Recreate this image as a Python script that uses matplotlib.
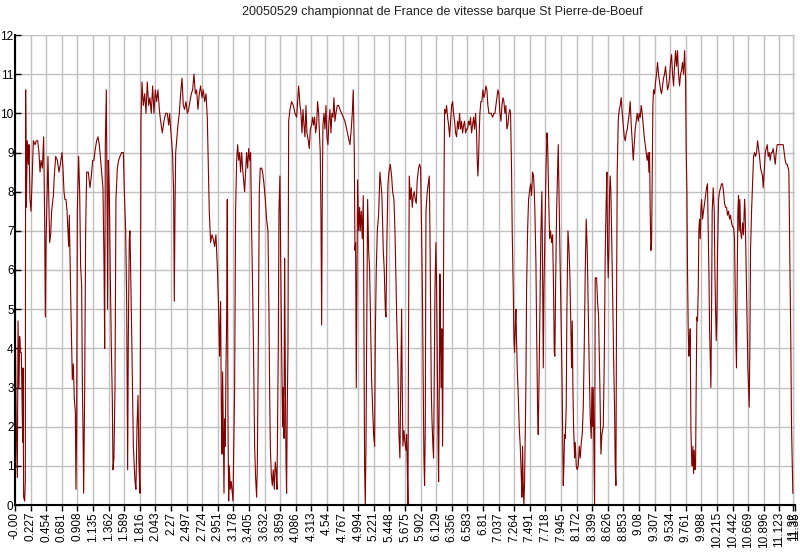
"""
Speed trace of a rowing-boat race (km vs km/h), redrawn with matplotlib.
Saves out.png at 800x553.
"""

import matplotlib
matplotlib.use("Agg")
import matplotlib.pyplot as plt

# ── Data: (distance, speed), one list per stretch ─────────────────────────────
stretch_1 = [
    (0.000, 5.7), (0.005, 4.4), (0.019, 2.0), (0.034, 0.7), (0.044, 4.7),
    (0.058, 3.0), (0.068, 4.3), (0.078, 3.9), (0.092, 3.9), (0.102, 2.7),
    (0.112, 1.6), (0.116, 3.5), (0.126, 0.2), (0.141, 0.1), (0.150, 0.6),
    (0.155, 10.6), (0.165, 7.6), (0.179, 9.3), (0.194, 8.7), (0.204, 9.2),
    (0.218, 7.8), (0.233, 7.5), (0.247, 8.2), (0.267, 9.3), (0.291, 9.2),
    (0.310, 9.3), (0.330, 9.3), (0.349, 9.0), (0.364, 8.5), (0.378, 8.8),
    (0.398, 8.6), (0.417, 9.4), (0.432, 7.2), (0.441, 4.8), (0.451, 6.7),
    (0.466, 7.9), (0.480, 8.9), (0.495, 7.6), (0.504, 6.7), (0.519, 6.9),
    (0.533, 7.5), (0.558, 7.9), (0.572, 8.4), (0.592, 8.9), (0.616, 8.8),
    (0.640, 8.5), (0.660, 8.7), (0.684, 9.0), (0.698, 8.6), (0.713, 8.0),
    (0.727, 7.8), (0.742, 7.8), (0.757, 7.5), (0.771, 7.0), (0.781, 6.6),
    (0.790, 7.4), (0.800, 6.4), (0.815, 4.9), (0.834, 3.2), (0.849, 3.6),
    (0.863, 2.7), (0.878, 2.4), (0.887, 0.4), (0.897, 2.0), (0.907, 7.5),
    (0.926, 8.9), (0.941, 8.0), (0.955, 6.1), (0.970, 5.6), (0.980, 3.1),
    (0.989, 2.0), (0.999, 0.3), (1.014, 3.0), (1.028, 7.0), (1.043, 8.5),
    (1.067, 8.5), (1.091, 8.1), (1.111, 8.4), (1.130, 8.8), (1.149, 8.8),
    (1.169, 9.1), (1.188, 9.3), (1.208, 9.4), (1.227, 9.2), (1.246, 8.8),
    (1.266, 8.4), (1.280, 8.1), (1.295, 6.2), (1.305, 4.0), (1.314, 9.2),
    (1.329, 10.6), (1.339, 8.0), (1.348, 5.0), (1.358, 8.8), (1.372, 8.0),
    (1.387, 5.8), (1.402, 4.0), (1.416, 2.7), (1.426, 0.9), (1.440, 1.2),
    (1.455, 3.0), (1.469, 7.8), (1.489, 8.6), (1.508, 8.8), (1.528, 8.9),
    (1.552, 9.0), (1.576, 9.0), (1.591, 8.0), (1.610, 7.0), (1.625, 5.2),
    (1.634, 2.5), (1.639, 0.9), (1.649, 4.3), (1.663, 6.8),
]

stretch_2 = [
    (1.673, 7.0), (1.697, 4.5), (1.722, 1.5), (1.746, 0.6), (1.760, 0.4),
    (1.775, 2.0), (1.790, 2.8), (1.804, 1.0), (1.819, 0.3), (1.833, 9.8),
    (1.848, 10.8), (1.867, 10.2), (1.887, 10.5), (1.906, 10.0), (1.925, 10.8),
    (1.945, 10.2), (1.964, 10.4), (1.983, 10.0), (2.003, 10.7), (2.022, 10.0),
    (2.042, 10.6), (2.061, 10.3), (2.080, 10.6), (2.100, 10.1), (2.119, 9.8),
    (2.144, 9.5), (2.168, 9.8), (2.192, 10.0), (2.216, 10.0), (2.236, 9.7),
    (2.250, 10.0), (2.265, 9.6), (2.279, 9.3), (2.294, 8.9), (2.308, 8.0),
    (2.318, 5.2), (2.328, 7.5), (2.338, 9.0), (2.352, 9.3), (2.371, 9.7),
    (2.391, 10.0), (2.410, 10.5), (2.430, 10.9), (2.449, 10.2), (2.468, 10.1),
    (2.488, 10.3), (2.507, 10.0), (2.527, 10.1), (2.546, 10.3), (2.565, 10.5),
    (2.585, 10.6), (2.604, 11.0), (2.624, 10.5), (2.643, 10.6), (2.662, 10.1),
    (2.682, 10.5), (2.701, 10.7), (2.721, 10.4), (2.740, 10.6), (2.759, 10.3),
    (2.779, 10.5), (2.798, 9.9),
]

stretch_3 = [
    (2.813, 8.6), (2.827, 7.5), (2.846, 6.7), (2.866, 6.9), (2.885, 6.8),
    (2.905, 6.6), (2.924, 6.9), (2.934, 6.5), (2.948, 5.9), (2.963, 5.0),
    (2.977, 3.8), (2.992, 5.2), (3.002, 2.5), (3.011, 1.3), (3.021, 3.4),
    (3.031, 2.0), (3.041, 0.3), (3.050, 2.2), (3.060, 1.5), (3.070, 3.5),
    (3.080, 4.8), (3.089, 7.8), (3.099, 2.2), (3.109, 0.1), (3.118, 1.0),
    (3.133, 0.4), (3.147, 0.6), (3.162, 0.3), (3.172, 0.1), (3.181, 1.2),
    (3.196, 3.0), (3.210, 7.5), (3.225, 8.8), (3.240, 9.2), (3.254, 8.8),
    (3.269, 9.0), (3.283, 8.5), (3.298, 9.0), (3.312, 8.6), (3.327, 8.3),
    (3.341, 8.0), (3.356, 8.5), (3.370, 9.0), (3.385, 8.6), (3.400, 9.1),
    (3.414, 8.8), (3.429, 9.0), (3.443, 7.0), (3.458, 5.5), (3.472, 3.8),
    (3.487, 1.5), (3.501, 0.7), (3.516, 0.2), (3.526, 1.0), (3.540, 4.0),
    (3.555, 8.0), (3.569, 8.6), (3.589, 8.6), (3.603, 8.5), (3.623, 8.2),
    (3.642, 7.8), (3.661, 7.3), (3.681, 7.0), (3.695, 5.0), (3.705, 3.0),
    (3.715, 1.5), (3.729, 0.8), (3.744, 0.5), (3.758, 0.9), (3.773, 0.4),
    (3.787, 1.1), (3.802, 0.8), (3.812, 0.4), (3.821, 2.2), (3.831, 4.0),
    (3.841, 7.5), (3.855, 8.4), (3.865, 6.5), (3.880, 4.0), (3.894, 2.0),
    (3.904, 3.0), (3.914, 1.7), (3.923, 6.3), (3.933, 3.5), (3.943, 1.2),
    (3.952, 0.3), (3.962, 2.5), (3.972, 4.0), (3.982, 9.8), (4.001, 10.1),
    (4.025, 10.3), (4.050, 10.2), (4.074, 10.0), (4.098, 9.9), (4.113, 10.3),
    (4.127, 10.7), (4.147, 10.2), (4.161, 10.0), (4.176, 9.5), (4.190, 10.1),
    (4.205, 9.7), (4.219, 9.4), (4.234, 10.2), (4.248, 9.5), (4.268, 9.3),
    (4.282, 9.1), (4.297, 9.6), (4.316, 9.7), (4.331, 9.9), (4.345, 9.7),
    (4.360, 9.9), (4.374, 9.5), (4.389, 9.7), (4.403, 10.3), (4.418, 10.0),
    (4.428, 9.6), (4.442, 9.0), (4.452, 7.4), (4.462, 4.6), (4.471, 7.8),
    (4.481, 9.7), (4.496, 10.0), (4.510, 9.6), (4.525, 10.2), (4.539, 9.4),
    (4.554, 9.2), (4.568, 9.8), (4.583, 10.1), (4.597, 9.5), (4.612, 10.0),
    (4.627, 9.9), (4.641, 10.4), (4.656, 9.8), (4.670, 10.0), (4.690, 10.2),
    (4.709, 10.2), (4.728, 10.1), (4.753, 10.0), (4.777, 9.9), (4.801, 9.8),
    (4.825, 9.6), (4.850, 9.4), (4.874, 9.2), (4.893, 9.6), (4.908, 10.0),
    (4.922, 10.6), (4.937, 9.0), (4.947, 6.5), (4.956, 6.7), (4.966, 3.0),
    (4.976, 6.0), (4.985, 8.3), (5.000, 7.0), (5.015, 7.6), (5.024, 7.0),
    (5.039, 7.5), (5.053, 6.8), (5.068, 7.9), (5.078, 4.0), (5.087, 1.0),
    (5.097, 0.0), (5.107, 1.5), (5.116, 4.0), (5.131, 7.8), (5.146, 6.5),
    (5.160, 6.0), (5.175, 4.5), (5.189, 3.2), (5.204, 2.5), (5.218, 1.8),
    (5.233, 1.5), (5.243, 4.3), (5.257, 6.0), (5.272, 7.0), (5.291, 7.4),
    (5.310, 8.5), (5.325, 8.2), (5.339, 7.9), (5.359, 6.5), (5.373, 6.0),
    (5.388, 5.0), (5.398, 4.8), (5.412, 6.8), (5.427, 8.2), (5.441, 8.5),
    (5.461, 8.7), (5.480, 8.4), (5.495, 8.0), (5.514, 7.8), (5.529, 7.0),
    (5.543, 5.8), (5.558, 4.5), (5.572, 3.5), (5.587, 1.8),
]

stretch_4 = [
    (5.601, 1.2), (5.616, 3.5), (5.626, 5.0), (5.635, 3.0), (5.645, 1.5),
    (5.659, 1.9), (5.674, 1.6), (5.689, 1.4), (5.698, 1.8), (5.708, 1.0),
    (5.718, 0.0), (5.727, 4.5), (5.737, 8.4), (5.752, 7.8), (5.766, 8.1),
    (5.781, 7.6), (5.795, 7.9), (5.810, 8.0), (5.824, 7.8), (5.839, 7.7),
    (5.853, 8.3), (5.873, 8.6), (5.887, 8.7), (5.902, 8.6), (5.916, 7.0),
    (5.931, 5.0), (5.941, 3.0), (5.950, 1.2), (5.960, 0.5), (5.970, 2.0),
    (5.980, 7.5), (5.999, 8.0), (6.013, 8.2), (6.028, 8.4), (6.038, 7.0),
    (6.047, 5.0), (6.057, 3.0), (6.067, 2.2), (6.081, 1.5), (6.091, 1.2),
    (6.101, 3.5), (6.111, 5.5), (6.125, 6.7), (6.135, 5.5), (6.144, 4.0),
    (6.154, 2.0), (6.164, 0.6), (6.174, 3.0), (6.183, 5.9), (6.193, 4.0),
    (6.203, 3.0), (6.212, 4.5), (6.222, 1.5), (6.232, 5.0), (6.242, 8.0),
    (6.251, 10.1), (6.266, 10.0), (6.280, 10.2), (6.295, 9.9), (6.310, 9.7),
    (6.324, 9.4), (6.339, 9.8), (6.353, 10.2), (6.368, 10.3), (6.382, 10.0),
    (6.397, 9.8), (6.411, 9.5), (6.426, 9.4), (6.440, 9.8), (6.455, 9.6),
    (6.469, 10.0), (6.484, 9.6), (6.498, 9.8), (6.513, 9.5), (6.528, 9.7),
    (6.542, 9.8), (6.557, 9.5), (6.571, 9.6), (6.586, 9.6), (6.600, 9.8),
    (6.615, 9.7), (6.629, 9.9), (6.644, 9.5), (6.658, 9.7), (6.673, 9.9),
    (6.687, 9.6), (6.702, 10.0), (6.716, 9.5), (6.726, 8.8), (6.736, 8.4),
    (6.745, 8.8), (6.755, 9.5), (6.765, 10.0), (6.779, 10.3), (6.794, 10.3),
    (6.808, 10.6), (6.823, 10.4), (6.838, 10.5), (6.852, 10.7), (6.867, 10.6),
    (6.881, 10.2), (6.896, 10.0), (6.910, 10.0), (6.930, 10.0), (6.949, 9.9),
    (6.969, 10.0), (6.983, 10.0), (6.998, 10.2), (7.012, 10.4), (7.027, 10.6),
    (7.041, 10.5), (7.056, 10.0), (7.071, 9.8), (7.085, 10.2), (7.100, 10.4),
    (7.114, 10.3), (7.129, 10.0), (7.143, 10.2), (7.158, 9.6), (7.172, 9.7),
    (7.187, 10.0), (7.201, 10.1), (7.211, 10.0), (7.226, 8.5), (7.235, 7.0),
    (7.250, 5.5), (7.260, 4.2), (7.269, 3.9), (7.279, 4.5), (7.289, 5.0),
    (7.298, 4.2), (7.308, 3.5), (7.323, 2.8), (7.337, 2.0), (7.352, 1.5),
    (7.366, 0.8), (7.376, 0.2), (7.386, 1.5), (7.395, 0.5), (7.405, 0.0),
    (7.415, 0.6), (7.425, 1.8), (7.434, 3.0), (7.444, 5.5), (7.459, 7.0),
    (7.473, 7.8), (7.488, 8.0), (7.502, 8.2), (7.517, 7.9), (7.531, 8.5),
    (7.546, 8.4), (7.556, 8.0), (7.565, 7.5), (7.580, 6.2), (7.590, 4.5),
    (7.604, 2.5), (7.614, 1.8), (7.624, 3.0), (7.638, 5.0), (7.653, 7.0),
    (7.667, 8.0), (7.677, 6.0), (7.687, 3.5), (7.697, 5.5), (7.711, 7.0),
    (7.726, 8.5), (7.740, 9.5), (7.750, 9.3), (7.764, 8.0), (7.779, 6.8),
    (7.793, 7.0), (7.808, 6.7), (7.823, 6.9), (7.837, 5.5), (7.847, 3.9),
    (7.856, 3.8), (7.866, 5.5), (7.881, 7.5), (7.895, 8.5), (7.905, 9.2),
    (7.915, 8.0), (7.929, 6.5), (7.944, 5.0), (7.958, 3.5), (7.968, 2.0),
    (7.978, 0.5), (7.987, 1.0), (7.997, 1.8), (8.007, 1.7), (8.021, 2.5),
    (8.031, 5.0), (8.046, 7.0), (8.060, 6.6), (8.075, 5.8), (8.089, 4.5),
    (8.099, 3.5), (8.109, 4.7), (8.118, 3.0), (8.128, 2.0), (8.143, 1.2),
    (8.152, 1.6), (8.167, 1.0), (8.181, 0.9), (8.196, 1.0), (8.211, 1.5),
    (8.225, 1.2), (8.240, 1.6), (8.254, 1.8), (8.269, 2.5), (8.283, 4.0),
    (8.298, 6.0), (8.312, 7.3), (8.327, 6.5), (8.341, 5.0), (8.356, 3.5),
    (8.371, 2.2), (8.385, 1.7), (8.395, 3.0), (8.404, 2.0), (8.414, 3.0),
    (8.424, 1.5), (8.434, 0.0), (8.443, 5.8), (8.463, 5.8), (8.477, 5.2),
    (8.492, 4.8), (8.511, 3.0),
]

stretch_5 = [
    (8.526, 1.3), (8.540, 1.8), (8.560, 2.0), (8.574, 3.6), (8.589, 6.5),
    (8.603, 7.8), (8.613, 8.5), (8.623, 6.5), (8.632, 5.8), (8.642, 6.5),
    (8.652, 8.0), (8.661, 8.4), (8.671, 8.0), (8.681, 7.0), (8.691, 6.0),
    (8.700, 5.0), (8.710, 3.8), (8.724, 2.5), (8.734, 1.0), (8.744, 0.5),
    (8.753, 5.0), (8.763, 8.5), (8.778, 9.8), (8.792, 10.1), (8.807, 10.2),
    (8.821, 10.4), (8.836, 10.0), (8.851, 9.7), (8.865, 9.4), (8.880, 9.3),
    (8.894, 9.5), (8.909, 9.6), (8.923, 9.8), (8.938, 10.0), (8.952, 10.3),
    (8.967, 9.7), (8.981, 9.3), (8.996, 8.8), (9.010, 9.2), (9.025, 9.6),
    (9.040, 9.8), (9.054, 10.0), (9.069, 9.8), (9.083, 10.0), (9.098, 9.9),
    (9.112, 10.2), (9.127, 10.0), (9.141, 9.7), (9.156, 9.4), (9.170, 9.2),
    (9.185, 9.0), (9.199, 8.8), (9.214, 9.0), (9.224, 8.5), (9.234, 9.0),
    (9.243, 7.5), (9.253, 6.5), (9.263, 6.7), (9.272, 8.5), (9.282, 10.2),
    (9.292, 10.6), (9.306, 10.5), (9.321, 10.8), (9.335, 11.0), (9.350, 11.3),
    (9.364, 11.0), (9.379, 10.8), (9.394, 10.6), (9.408, 10.5), (9.423, 10.7),
    (9.437, 10.9), (9.452, 11.0), (9.466, 11.2), (9.481, 10.9), (9.495, 10.6),
    (9.510, 10.7), (9.524, 10.9), (9.539, 11.3), (9.554, 11.5), (9.568, 11.0),
    (9.583, 10.7), (9.597, 11.2), (9.612, 11.6), (9.626, 11.2), (9.641, 11.6),
    (9.655, 11.0), (9.670, 10.7), (9.684, 11.0), (9.699, 11.1), (9.713, 11.3),
    (9.728, 11.0), (9.743, 11.6), (9.757, 10.9), (9.767, 9.0), (9.777, 8.0),
    (9.786, 6.0), (9.796, 4.5), (9.806, 3.8), (9.815, 4.0), (9.825, 4.5),
    (9.835, 2.0), (9.844, 1.3), (9.854, 1.0), (9.864, 1.5), (9.874, 0.8),
    (9.883, 1.4), (9.893, 0.9), (9.903, 1.0), (9.912, 3.0), (9.922, 4.8),
    (9.932, 4.7), (9.942, 5.5), (9.951, 7.0), (9.961, 7.3), (9.971, 6.8),
    (9.980, 7.5), (9.990, 7.8), (10.005, 7.3), (10.019, 7.5), (10.034, 7.7),
    (10.048, 7.9), (10.063, 8.1), (10.077, 8.2), (10.087, 7.0), (10.097, 6.0),
    (10.107, 4.5), (10.116, 3.8), (10.126, 3.0), (10.136, 5.0), (10.145, 7.5),
    (10.160, 8.1), (10.175, 7.5), (10.184, 6.0), (10.194, 5.0), (10.204, 4.2),
    (10.213, 4.8), (10.223, 6.5), (10.238, 7.8), (10.252, 8.0), (10.267, 8.1),
    (10.281, 8.2), (10.296, 8.2), (10.310, 8.0), (10.325, 7.7), (10.339, 7.6),
    (10.354, 7.6), (10.368, 7.4), (10.383, 7.5), (10.398, 7.3), (10.412, 7.4),
    (10.427, 7.2), (10.441, 7.1), (10.456, 7.1), (10.470, 6.8), (10.480, 5.5),
    (10.490, 4.2), (10.499, 3.5), (10.509, 5.8), (10.519, 7.5), (10.528, 7.9),
    (10.538, 7.0), (10.548, 7.8), (10.558, 7.0), (10.572, 6.8), (10.587, 7.2),
    (10.601, 6.9), (10.616, 7.8), (10.625, 7.5), (10.635, 6.5), (10.645, 5.5),
    (10.655, 4.5), (10.664, 3.5), (10.674, 3.0), (10.684, 2.5), (10.693, 4.0),
    (10.703, 6.5), (10.718, 7.5), (10.732, 8.2), (10.747, 8.9), (10.761, 9.0),
    (10.776, 8.9), (10.791, 9.0), (10.805, 9.3), (10.820, 9.1), (10.834, 8.9),
    (10.849, 8.6), (10.863, 8.5), (10.878, 8.4), (10.887, 8.1), (10.902, 8.5),
    (10.917, 9.0), (10.931, 9.1), (10.946, 9.2), (10.960, 8.9), (10.975, 9.0),
    (10.989, 8.8), (11.004, 9.0), (11.018, 9.0), (11.033, 9.1), (11.047, 8.9),
    (11.062, 8.7), (11.076, 9.0), (11.091, 9.2), (11.105, 9.2), (11.120, 9.2),
    (11.134, 9.2), (11.149, 9.2), (11.164, 9.2), (11.178, 9.2), (11.193, 9.0),
    (11.207, 8.8), (11.222, 8.7), (11.236, 8.7), (11.251, 8.6), (11.261, 8.5),
    (11.270, 7.0), (11.280, 5.5), (11.290, 4.0), (11.299, 2.0), (11.309, 1.2),
    (11.319, 0.3),
]

# ── Axis labels ───────────────────────────────────────────────────────────────
TITLE = "20050529 championnat de France de vitesse barque St Pierre-de-Boeuf"

x_tick_labels = [
    "-0.00", "0.227", "0.454", "0.681", "0.908", "1.135", "1.362", "1.589",
    "1.816", "2.043", "2.27", "2.497", "2.724", "2.951", "3.178", "3.405",
    "3.632", "3.859", "4.086", "4.313", "4.54", "4.767", "4.994", "5.221",
    "5.448", "5.675", "5.902", "6.129", "6.356", "6.583", "6.81", "7.037",
    "7.264", "7.491", "7.718", "7.945", "8.172", "8.399", "8.626", "8.853",
    "9.08", "9.307", "9.534", "9.761", "9.988", "10.215", "10.442", "10.669",
    "10.896", "11.123", "11.35", "11.32",
]
y_ticks = list(range(0, 13))

LINE_COLOR = "#800000"
GRID_COLOR = "#c0c0c0"


def main():
    plt.rcParams["font.family"] = ["Liberation Sans", "DejaVu Sans"]

    points = stretch_1 + stretch_2 + stretch_3 + stretch_4 + stretch_5
    distance = [p[0] for p in points]
    speed = [p[1] for p in points]

    fig = plt.figure(figsize=(8.0, 5.53), dpi=100)
    ax = fig.add_axes([15 / 800, 1 - 505 / 553, 780 / 800, 470 / 553])

    ax.plot(distance, speed, color=LINE_COLOR, linewidth=0.8)

    x_ticks = [abs(float(s)) for s in x_tick_labels]
    ax.set_xticks(x_ticks)
    ax.set_xticklabels(x_tick_labels, rotation=90, fontsize=8.5)
    ax.set_yticks(y_ticks)
    ax.set_yticklabels([str(v) for v in y_ticks], fontsize=8.5)

    ax.set_xlim(0, 11.35)
    ax.set_ylim(0, 12)

    ax.grid(True, color=GRID_COLOR, linewidth=1.0)
    ax.set_axisbelow(True)
    for side in ("top", "right"):
        ax.spines[side].set_visible(False)
    for side in ("left", "bottom"):
        ax.spines[side].set_color("black")
        ax.spines[side].set_linewidth(1.5)
    ax.tick_params(axis="x", length=4, width=1, pad=1, colors="black")
    ax.tick_params(axis="y", direction="in", length=4, width=1, pad=1,
                   colors="black")

    fig.text(442 / 800, 1 - 12 / 553, TITLE, ha="center", va="center",
             fontsize=9, color="#202020")

    fig.savefig("out.png", dpi=100)
    plt.close(fig)


if __name__ == "__main__":
    main()
